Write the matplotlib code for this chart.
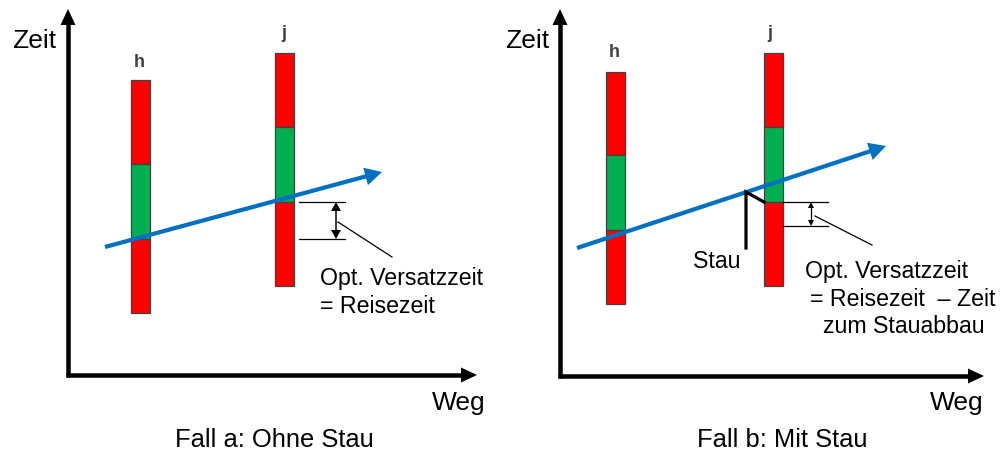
import matplotlib
matplotlib.use('Agg')
import numpy as np
import matplotlib.pyplot as plt
from matplotlib.patches import Polygon

plt.rcParams['font.family'] = ['Liberation Sans', 'DejaVu Sans']

# ---- data (diagram units: pixels of a 1000x450 canvas, y downward) ----
bar_labels = ['h', 'j']
segment_colors = ['#FF0000', '#00B050', '#FF0000']

# Panel a: Ohne Stau
bars_a_x = [140.5, 284.5]
bars_a_bounds = [[80, 164, 239, 313], [53, 127, 202, 286]]
labels_a_pos = [(139, 67), (284, 38)]
travel_a = [(105, 247), (382, 172)]
axes_a = {'origin': (68, 375), 'ytip': (68, 9), 'xtip': (477, 375)}
bracket_a = {'x0': 299, 'x1': 345, 'y0': 202, 'y1': 239, 'xa': 336}
leader_a = [(338, 222), (392, 257)]
text_a = [("Opt. Versatzzeit", 320, 285), ("= Reisezeit", 320, 313)]
title_a = ("Fall a: Ohne Stau", 274, 447)
zeit_a = (12, 48)
weg_a = (432, 410)

# Panel b: Mit Stau
bars_b_x = [615.5, 773.5]
bars_b_bounds = [[72, 155, 230, 304], [53, 127, 202, 286]]
labels_b_pos = [(614, 57), (770, 38)]
travel_b = [(577, 248), (886, 146)]
axes_b = {'origin': (560, 376), 'ytip': (560, 9), 'xtip': (984, 376)}
bracket_b = {'x0': 783, 'x1': 828, 'y0': 202, 'y1': 226, 'xa': 811}
leader_b = [(815, 216), (872, 245)]
text_b = [("Opt. Versatzzeit", 805, 278), ("= Reisezeit  \u2013 Zeit", 810, 306),
          ("zum Stauabbau", 823, 333)]
title_b = ("Fall b: Mit Stau", 782, 447)
zeit_b = (505, 48)
weg_b = (930, 410)
stau_x = [746, 746, 764]
stau_y = [248, 192, 202]
stau_label = ("Stau", 717, 268)

fig = plt.figure(figsize=(10, 4.5), dpi=100)
ax = fig.add_axes([0, 0, 1, 1])
ax.set_xlim(0, 1000)
ax.set_ylim(450, 0)
ax.axis('off')

BLUE = '#0070C0'
FS_BIG = 19
FS_TXT = 16.7
FS_TITLE = 18.4
PT = 72 / 100  # points per pixel


def arrow(p0, p1, lw_px, color, hl, hw, z=3, both=False):
    """Line p0->p1 (pixel units) with a filled triangular head at p1 (and p0)."""
    p0 = np.asarray(p0, float)
    p1 = np.asarray(p1, float)
    d = p1 - p0
    L = np.hypot(*d)
    u = d / L
    s = p0 + u * hl * 0.8 if both else p0
    e = p1 - u * hl * 0.8
    ax.plot([s[0], e[0]], [s[1], e[1]], color=color, lw=lw_px * PT,
            solid_capstyle='butt', zorder=z)
    heads = [(p1, u)] + ([(p0, -u)] if both else [])
    for tip, uu in heads:
        nn = np.array([-uu[1], uu[0]])
        base = tip - uu * hl
        ax.add_patch(Polygon([tip, base + nn * hw / 2, base - nn * hw / 2],
                             closed=True, facecolor=color, edgecolor='none', zorder=z))


def draw_panel(bx, bounds, lab_pos, travel, axd, br, leader, texts, title,
               zeit, weg, head_big):
    # axes arrows
    ox, oy = axd['origin']
    arrow((ox, oy + 2), axd['ytip'], 4.5, 'black', 16, 15)
    arrow((ox - 2, oy), axd['xtip'], 4.5, 'black', 16, 15)
    # signal bars
    for x, b in zip(bx, bounds):
        for i in range(3):
            ax.bar(x, b[i + 1] - b[i], bottom=b[i], width=19,
                   color=segment_colors[i], edgecolor='#404040', lw=0.9, zorder=2)
    for lab, (lx, ly) in zip(bar_labels, lab_pos):
        ax.text(lx, ly, lab, fontsize=13, fontweight='bold', color='#404040',
                ha='center', va='baseline')
    # travel trajectory
    arrow(travel[0], travel[1], 4.2, BLUE, 17, 18, z=4)
    # bracket
    ax.plot([br['x0'], br['x1']], [br['y0'], br['y0']], color='black', lw=0.9, zorder=3)
    ax.plot([br['x0'], br['x1']], [br['y1'], br['y1']], color='black', lw=0.9, zorder=3)
    if head_big:
        arrow((br['xa'], br['y0']), (br['xa'], br['y1']), 1.5, 'black', 9, 10, both=True)
    else:
        arrow((br['xa'], br['y0']), (br['xa'], br['y1']), 1.3, 'black', 6, 6, both=True)
    ax.plot([leader[0][0], leader[1][0]], [leader[0][1], leader[1][1]],
            color='black', lw=0.9, zorder=3)
    for s, tx, ty in texts:
        ax.text(tx, ty, s, fontsize=FS_TXT, ha='left', va='baseline')
    ax.text(title[1], title[2], title[0], fontsize=FS_TITLE, ha='center', va='baseline')
    ax.text(zeit[0], zeit[1], 'Zeit', fontsize=FS_BIG, ha='left', va='baseline')
    ax.text(weg[0], weg[1], 'Weg', fontsize=FS_BIG, ha='left', va='baseline')


draw_panel(bars_a_x, bars_a_bounds, labels_a_pos, travel_a, axes_a, bracket_a,
           leader_a, text_a, title_a, zeit_a, weg_a, True)
draw_panel(bars_b_x, bars_b_bounds, labels_b_pos, travel_b, axes_b, bracket_b,
           leader_b, text_b, title_b, zeit_b, weg_b, False)

ax.plot(stau_x, stau_y, color='black', lw=3.2 * PT, solid_joinstyle='miter', zorder=5)
ax.text(stau_label[1], stau_label[2], stau_label[0], fontsize=FS_TXT,
        ha='center', va='baseline')

fig.savefig('out.png', dpi=100)
